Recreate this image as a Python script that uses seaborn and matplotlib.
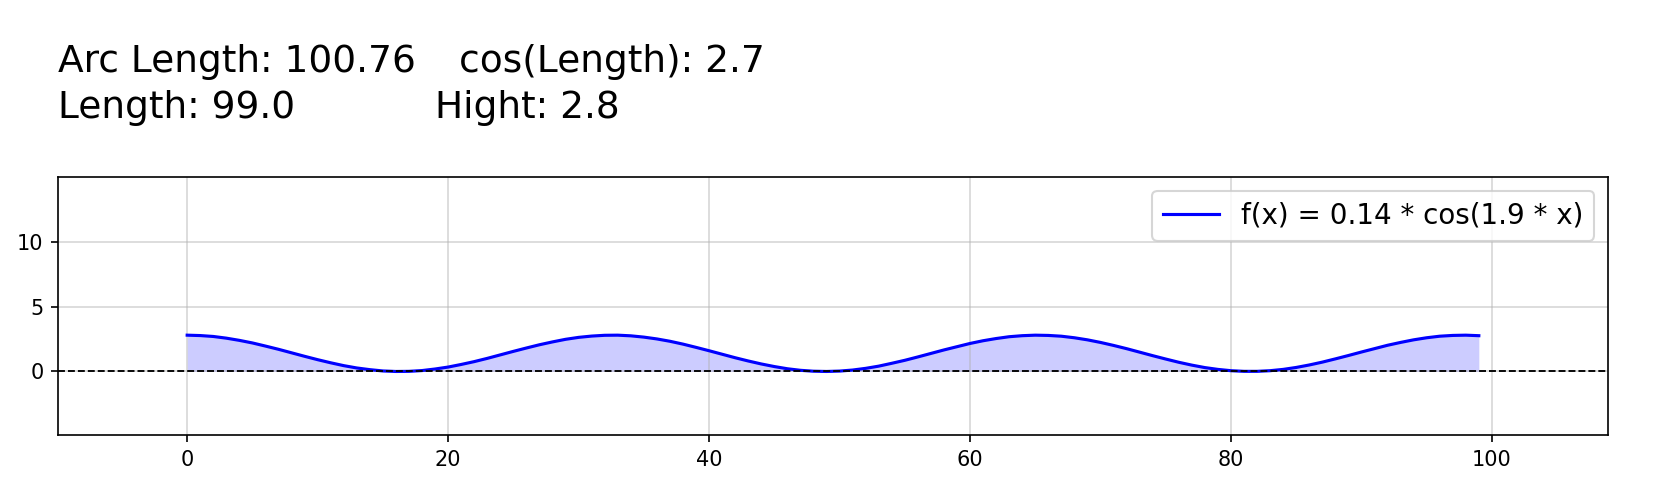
import matplotlib
matplotlib.use('Agg')
import matplotlib.pyplot as plt
import seaborn as sns

# curve, one value per unit of x (0..99)
x_vals = list(range(100))
y_vals = [2.80, 2.77, 2.70, 2.57, 2.40, 2.20, 1.96, 1.71, 1.44, 1.17,
          0.91, 0.67, 0.45, 0.27, 0.14, 0.04, 0.00, 0.01, 0.07, 0.19,
          0.34, 0.54, 0.76, 1.01, 1.28, 1.55, 1.81, 2.06, 2.28, 2.48,
          2.63, 2.73, 2.79, 2.80, 2.75, 2.65, 2.51, 2.33, 2.11, 1.86,
          1.60, 1.33, 1.06, 0.81, 0.58, 0.38, 0.21, 0.09, 0.02, 0.00,
          0.03, 0.11, 0.24, 0.41, 0.63, 0.86, 1.12, 1.39, 1.66, 1.91,
          2.16, 2.37, 2.54, 2.68, 2.76, 2.80, 2.78, 2.72, 2.60, 2.44,
          2.24, 2.01, 1.76, 1.49, 1.22, 0.96, 0.71, 0.49, 0.30, 0.16,
          0.06, 0.01, 0.01, 0.06, 0.16, 0.31, 0.50, 0.72, 0.97, 1.23,
          1.50, 1.76, 2.02, 2.24, 2.44, 2.60, 2.72, 2.78, 2.80, 2.76]

curve_label = 'f(x) = 0.14 * cos(1.9 * x)'
info_left = ['Arc Length: 100.76', 'Length: 99.0']
info_right = ['cos(Length): 2.7', 'Hight: 2.8']

length = 99.0

W, H, DPI = 1664, 494, 150
fig = plt.figure(figsize=(W / DPI, H / DPI), dpi=DPI)
ax = fig.add_axes([58 / W, 1 - 435 / H, (1608 - 58) / W, (435 - 177) / H])

sns.lineplot(x=x_vals, y=y_vals, color='blue', linewidth=1.5, label=curve_label, ax=ax)
ax.fill_between(x_vals, y_vals, 0, color='blue', alpha=0.2, linewidth=0)
ax.axhline(0, color='black', linestyle='--', linewidth=0.9)

ax.set_xlim(-0.1 * length, 1.1 * length)
ax.set_ylim(-4.9, 15)
ax.set_yticks([0, 5, 10])
ax.grid(True, alpha=0.5)
ax.legend(loc='upper right', fontsize=13.3)

fig.text(58 / W, 1 - 72 / H, info_left[0], fontsize=18, va='baseline')
fig.text(58 / W, 1 - 118 / H, info_left[1], fontsize=18, va='baseline')
fig.text(459 / W, 1 - 72 / H, info_right[0], fontsize=18, va='baseline')
fig.text(435 / W, 1 - 118 / H, info_right[1], fontsize=18, va='baseline')

plt.savefig('out.png', dpi=DPI)
